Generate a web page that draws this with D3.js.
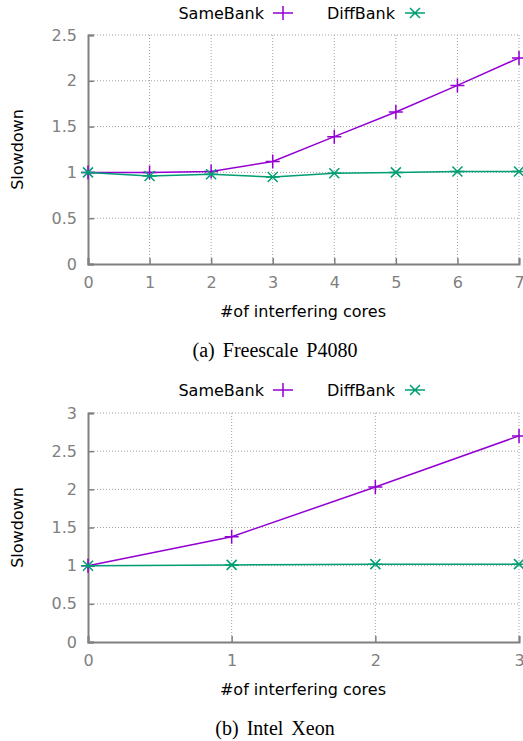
<!DOCTYPE html>
<html>
<head>
<meta charset="utf-8">
<script src="https://cdn.jsdelivr.net/npm/d3@7"></script>
<style>
  body { margin: 0; background: #fff; }
  text { font-family: "DejaVu Sans", sans-serif; }
  .cap { font-family: "Liberation Serif", "Times New Roman", serif; }
</style>
</head>
<body>
<script>
// Chart data
var seriesNames = ["SameBank", "DiffBank"];
var coresA = [0, 1, 2, 3, 4, 5, 6, 7];
var sameA = [1.0, 1.0, 1.01, 1.12, 1.39, 1.66, 1.95, 2.25];
var diffA = [1.0, 0.96, 0.98, 0.95, 0.99, 1.0, 1.01, 1.01];
var yTicksA = [0, 0.5, 1, 1.5, 2, 2.5];

var coresB = [0, 1, 2, 3];
var sameB = [1.0, 1.38, 2.03, 2.7];
var diffB = [1.0, 1.01, 1.02, 1.02];
var yTicksB = [0, 0.5, 1, 1.5, 2, 2.5, 3];

var colors = ["#9400d3", "#009e73"];

var width = 523, height = 741;

var svg = d3.select("body").append("svg")
    .attr("width", width)
    .attr("height", height);

function panel(opt) {
    var x = d3.scaleLinear().domain([0, d3.max(opt.cores)]).range([88, 519]);
    var y = d3.scaleLinear().domain([0, d3.max(opt.yTicks)]).range([opt.bottom, opt.top]);
    var g = svg.append("g");

    // grid
    g.selectAll(".gx").data(opt.cores.slice(1)).enter().append("line")
        .attr("x1", d => x(d)).attr("x2", d => x(d))
        .attr("y1", y.range()[0]).attr("y2", y.range()[1])
        .style("stroke", "#a0a0a0").style("stroke-dasharray", "1,2");
    g.selectAll(".gy").data(opt.yTicks.slice(1)).enter().append("line")
        .attr("x1", x.range()[0]).attr("x2", x.range()[1])
        .attr("y1", d => y(d)).attr("y2", d => y(d))
        .style("stroke", "#a0a0a0").style("stroke-dasharray", "1,2");

    // axes
    var xa = g.append("g").attr("transform", "translate(0," + opt.bottom + ")")
        .call(d3.axisBottom(x).tickValues(opt.cores).tickSize(-6).tickPadding(13).tickFormat(d3.format("d")));
    var ya = g.append("g").attr("transform", "translate(88,0)")
        .call(d3.axisLeft(y).tickValues(opt.yTicks).tickSize(-6).tickPadding(11).tickFormat(d => d));
    [xa, ya].forEach(function(a) {
        a.select(".domain").style("stroke", "#808080").style("stroke-width", 2);
        a.selectAll(".tick line").style("stroke", "#808080").style("stroke-width", 1.5);
        a.selectAll(".tick text").style("fill", "#808080").style("font-size", "16px")
            .style("font-family", "DejaVu Sans, sans-serif");
    });

    // lines and markers
    [opt.same, opt.diff].forEach(function(vals, i) {
        var pts = vals.map((v, k) => [opt.cores[k], v]);
        g.append("path").datum(pts)
            .attr("d", d3.line().x(d => x(d[0])).y(d => y(d[1])))
            .style("fill", "none").style("stroke", colors[i]).style("stroke-width", 1.5);
        g.selectAll(".m" + i).data(pts).enter().append("path")
            .attr("transform", d => "translate(" + x(d[0]) + "," + y(d[1]) + ")")
            .attr("d", i === 0 ? "M-7,0H7M0,-7V7" : "M-7,0H7M-5,-5L5,5M-5,5L5,-5")
            .style("stroke", colors[i]).style("stroke-width", 1.5).style("fill", "none");
    });

    // legend
    var lg = g.append("g").attr("transform", "translate(0," + opt.legendY + ")");
    var lx = [264, 395], mx = [283, 415];
    seriesNames.forEach(function(n, i) {
        lg.append("text").attr("x", lx[i]).attr("y", 6).attr("text-anchor", "end")
            .style("font-size", "16px").text(n);
        lg.append("path").attr("transform", "translate(" + mx[i] + ",0)")
            .attr("d", "M-10,0H10" + (i === 0 ? "M0,-7V7" : "M-5,-5L5,5M-5,5L5,-5"))
            .style("stroke", colors[i]).style("stroke-width", 1.5);
    });

    // titles
    g.append("text").attr("x", 303).attr("y", opt.bottom + 53).attr("text-anchor", "middle")
        .style("font-size", "16px").text("#of interfering cores");
    g.append("text").attr("transform", "translate(23," + (opt.top + opt.bottom) / 2 + ") rotate(-90)")
        .attr("text-anchor", "middle").style("font-size", "16px").text("Slowdown");
    g.append("text").attr("class", "cap").attr("x", 275).attr("y", opt.bottom + 93)
        .attr("text-anchor", "middle").style("font-size", "20px").style("word-spacing", "3px")
        .text(opt.caption);
}

panel({cores: coresA, same: sameA, diff: diffA, yTicks: yTicksA,
       top: 35, bottom: 264, legendY: 13, caption: "(a)  Freescale P4080"});
panel({cores: coresB, same: sameB, diff: diffB, yTicks: yTicksB,
       top: 413, bottom: 642, legendY: 390, caption: "(b)  Intel Xeon"});
</script>
</body>
</html>
